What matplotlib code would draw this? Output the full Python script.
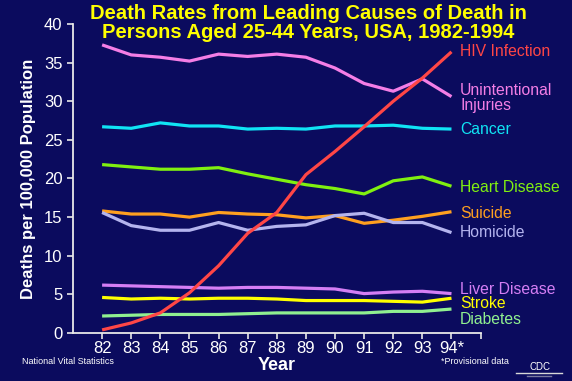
import matplotlib
matplotlib.use("Agg")
import matplotlib.pyplot as plt
from matplotlib.lines import Line2D

plt.rcParams['font.family'] = ['Liberation Sans', 'DejaVu Sans']

years = [82, 83, 84, 85, 86, 87, 88, 89, 90, 91, 92, 93, 94]
year_labels = ["82", "83", "84", "85", "86", "87", "88", "89", "90", "91", "92", "93", "94*", ""]

injuries = [37.3, 36.0, 35.7, 35.2, 36.1, 35.8, 36.1, 35.7, 34.3, 32.3, 31.3, 32.9, 30.6]
cancer = [26.7, 26.5, 27.2, 26.8, 26.8, 26.4, 26.5, 26.4, 26.8, 26.8, 26.9, 26.5, 26.4]
heart = [21.8, 21.5, 21.2, 21.2, 21.4, 20.6, 19.9, 19.2, 18.7, 18.0, 19.7, 20.2, 19.0]
suicide = [15.8, 15.4, 15.4, 15.0, 15.6, 15.4, 15.3, 14.9, 15.2, 14.2, 14.6, 15.1, 15.7]
homicide = [15.6, 13.9, 13.3, 13.3, 14.3, 13.3, 13.8, 14.0, 15.2, 15.5, 14.3, 14.3, 13.0]
hiv = [0.4, 1.3, 2.6, 5.2, 8.7, 12.9, 15.6, 20.5, 23.5, 26.7, 30.0, 33.0, 36.4]
liver = [6.2, 6.1, 6.0, 5.9, 5.8, 5.9, 5.9, 5.8, 5.7, 5.1, 5.3, 5.4, 5.1]
stroke = [4.6, 4.4, 4.5, 4.4, 4.5, 4.5, 4.4, 4.2, 4.2, 4.2, 4.1, 4.0, 4.5]
diabetes = [2.2, 2.3, 2.4, 2.4, 2.4, 2.5, 2.6, 2.6, 2.6, 2.6, 2.8, 2.8, 3.1]

series = [
    ("Unintentional\nInjuries", injuries, "#f47ee6", 98),
    ("Cancer", cancer, "#10e4f4", 130),
    ("Heart Disease", heart, "#80f010", 187),
    ("Suicide", suicide, "#ffa020", 213),
    ("Homicide", homicide, "#b4b4ee", 233),
    ("Liver Disease", liver, "#d47ef4", 289),
    ("Stroke", stroke, "#ffff00", 304),
    ("Diabetes", diabetes, "#90f090", 320),
    ("HIV Infection", hiv, "#ff4646", 52),
]

bg = "#0b0b5e"
fig = plt.figure(figsize=(5.72, 3.81), dpi=100, facecolor=bg)
ax = fig.add_axes([0.1276, 0.126, 0.7126, 0.811])
ax.set_facecolor(bg)

for name, vals, col, ly in series:
    ax.plot(years, vals, color=col, lw=2.3, solid_capstyle='butt')
    fig.text(460 / 572, 1 - ly / 381, name, color=col, fontsize=11.3,
             ha='left', va='center', linespacing=1.0)

ax.set_xlim(81, 95)
ax.set_ylim(0, 40)
ax.set_xticks(years + [95])
ax.set_xticklabels(year_labels)
ax.set_yticks(range(0, 41, 5))
for s in ("top", "right"):
    ax.spines[s].set_visible(False)
for s in ("left", "bottom"):
    ax.spines[s].set_color("#e8e8e8")
    ax.spines[s].set_linewidth(1.3)
ax.tick_params(colors="#e8e8e8", labelcolor="white", labelsize=12,
               length=4, width=1.2, direction='out')
ax.tick_params(axis='x', pad=1.5)

ax.set_ylabel("Deaths per 100,000 Population", color="white",
              fontsize=12, fontweight='bold', labelpad=6)
ax.set_xlabel("Year", color="white", fontsize=13, fontweight='bold', labelpad=1)

fig.text(308 / 572, 1 - 23 / 381,
         "Death Rates from Leading Causes of Death in\nPersons Aged 25-44 Years, USA, 1982-1994",
         color="#ffff00", fontsize=14.5, fontweight='bold', ha='center', va='center',
         linespacing=0.95)

fig.text(22 / 572, 1 - 362 / 381, "National Vital Statistics", color="white",
         fontsize=6.5, ha='left', va='center')
fig.text(441 / 572, 1 - 361 / 381, "*Provisional data", color="white",
         fontsize=6.5, ha='left', va='center')
fig.text(540 / 572, 1 - 367 / 381, "CDC", color="white",
         fontsize=7, ha='center', va='center')
fig.add_artist(Line2D([516 / 572, 562 / 572], [1 - 373 / 381] * 2,
                      color="#d8d8d8", lw=1))
fig.add_artist(Line2D([527 / 572, 551 / 572], [1 - 376 / 381] * 2,
                      color="#7878a0", lw=1))

fig.savefig("out.png", dpi=100, facecolor=bg)
